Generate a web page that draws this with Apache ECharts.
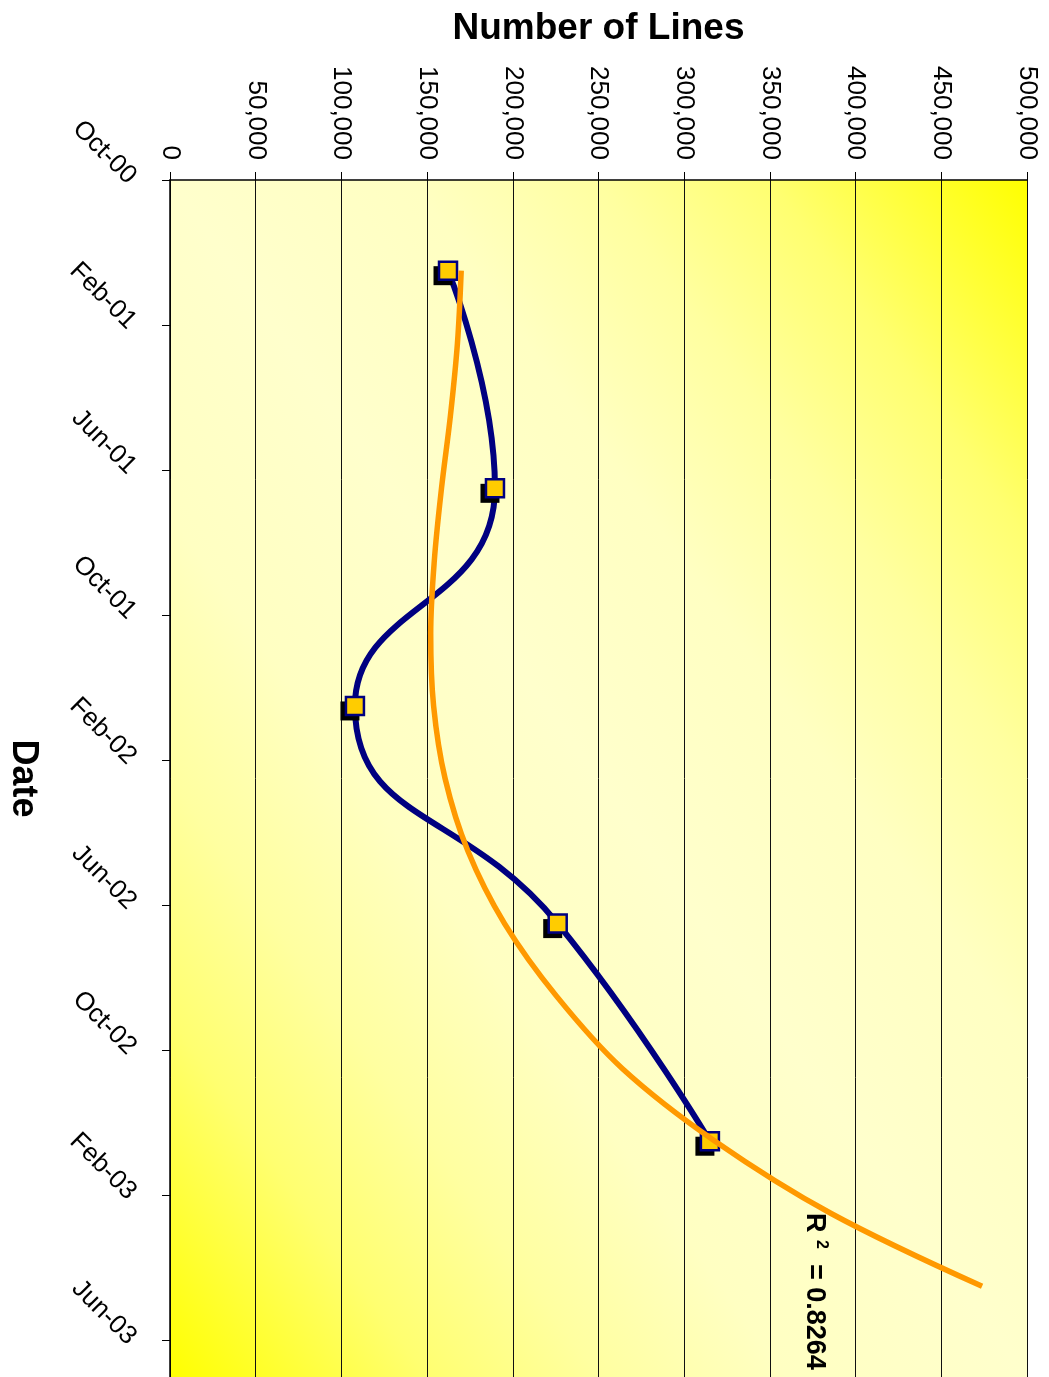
<!DOCTYPE html>
<html>
<head>
<meta charset="utf-8">
<script src="https://cdn.jsdelivr.net/npm/echarts@6/dist/echarts.min.js"></script>
<style>
  html, body { margin: 0; padding: 0; background: #ffffff; }
  #chart { width: 1049px; height: 1377px; }
</style>
</head>
<body>
<div id="chart"></div>
<script>
// Date axis runs in months counted from October 2000, one tick every 4 months
const dateTickLabels = ['Oct-00', 'Feb-01', 'Jun-01', 'Oct-01', 'Feb-02', 'Jun-02', 'Oct-02', 'Feb-03', 'Jun-03'];

// Number of lines, sampled twice a year
const lineMonths = [2.5, 8.5, 14.5, 20.5, 26.5];
const lineCounts = [162200, 189600, 107900, 226200, 315000];

// Polynomial trendline, extended four months ahead
const trendMonths = [2.5, 4.5, 6.5, 8.5, 10.5, 12.5, 14.5, 16.5, 18.5, 20.5, 22.5, 24.5, 26.5, 28.5, 30.5];
const trendCounts = [169900, 167700, 163600, 158400, 154200, 152100, 153800, 160500, 173800, 195200, 225500, 264000, 318000, 386000, 473800];

const FONT = '"Liberation Sans", Arial, sans-serif';
const W = 1049, H = 1377;
const GRID = { left: 170, top: 180, right: 22, bottom: 0 };

// Diagonal two-tone fill: yellow in the top-right and bottom-left corners, pale through the middle
const gw = W - GRID.left - GRID.right, gh = H - GRID.top - GRID.bottom;
const cx = GRID.left + gw / 2, cy = GRID.top + gh / 2;
const diagLen = Math.sqrt(gw * gw + gh * gh);
const ux = gh / diagLen, uy = -gw / diagLen;           // normal to the top-left / bottom-right diagonal
const reach = (gw / 2) * ux - (gh / 2) * uy;           // distance from centre to the top-right corner along it
const plotFill = new echarts.graphic.LinearGradient(
  cx + ux * reach, cy + uy * reach,
  cx - ux * reach, cy - uy * reach,
  [
    { offset: 0, color: '#FFFF00' },
    { offset: 0.15, color: '#FFFF70' },
    { offset: 0.25, color: '#FFFFA0' },
    { offset: 0.36, color: '#FFFFC2' },
    { offset: 0.5, color: '#FFFFCC' },
    { offset: 0.64, color: '#FFFFC2' },
    { offset: 0.75, color: '#FFFFA0' },
    { offset: 0.85, color: '#FFFF70' },
    { offset: 1, color: '#FFFF00' }
  ],
  true
);

const fmtThousands = v => String(v).replace(/\B(?=(\d{3})+(?!\d))/g, ',');
const pointData = lineMonths.map((m, i) => [lineCounts[i], m]);

const chart = echarts.init(document.getElementById('chart'), null, { renderer: 'canvas' });

chart.setOption({
  animation: false,
  backgroundColor: '#ffffff',
  textStyle: { fontFamily: FONT },
  grid: {
    left: GRID.left, top: GRID.top, right: GRID.right, bottom: GRID.bottom,
    outerBoundsMode: 'none',
    containLabel: false,
    show: true,
    backgroundColor: plotFill,
    borderWidth: 0
  },
  xAxis: {
    type: 'value',
    position: 'top',
    min: 0,
    max: 500000,
    interval: 50000,
    name: 'Number of Lines',
    nameLocation: 'middle',
    nameGap: 133,
    nameTextStyle: { fontFamily: FONT, fontSize: 37, fontWeight: 'bold', color: '#000' },
    axisLine: { show: true, lineStyle: { color: '#000', width: 1.5 } },
    axisTick: { show: true, length: 8, lineStyle: { color: '#000', width: 1 } },
    axisLabel: {
      rotate: -90,
      margin: 20,
      fontFamily: FONT,
      fontSize: 26,
      color: '#000',
      formatter: fmtThousands
    },
    splitLine: { show: true, lineStyle: { color: '#111', width: 1 } }
  },
  yAxis: {
    type: 'value',
    inverse: true,
    min: 0,
    max: 33,
    interval: 4,
    name: 'Date',
    nameLocation: 'middle',
    nameRotate: -90,
    nameGap: 129,
    nameTextStyle: { fontFamily: FONT, fontSize: 36, fontWeight: 'bold', color: '#000' },
    axisLine: { show: true, lineStyle: { color: '#000', width: 1.5 } },
    axisTick: { show: true, length: 8, lineStyle: { color: '#000', width: 1 } },
    axisLabel: {
      rotate: -45,
      margin: 38,
      padding: [3, 0, 0, 3],
      fontFamily: FONT,
      fontSize: 26,
      color: '#000',
      showMaxLabel: false,
      formatter: v => (v % 4 === 0 ? (dateTickLabels[v / 4] || '') : '')
    },
    splitLine: { show: false }
  },
  series: [
    {
      name: 'Number of Lines',
      type: 'line',
      data: pointData,
      smooth: 0.5,
      showSymbol: false,
      symbol: 'none',
      lineStyle: { color: '#000080', width: 6 },
      z: 2
    },
    {
      // drop shadow behind each marker
      name: 'marker shadow',
      type: 'scatter',
      data: pointData,
      symbol: 'rect',
      symbolSize: 19,
      symbolOffset: [-5, 5],
      itemStyle: { color: '#000000', opacity: 1 },
      silent: true,
      z: 3
    },
    {
      name: 'markers',
      type: 'scatter',
      data: pointData,
      symbol: 'rect',
      symbolSize: 18,
      itemStyle: { color: '#FFCC00', borderColor: '#000080', borderWidth: 2.5, opacity: 1 },
      emphasis: { disabled: true },
      z: 4
    },
    {
      name: 'Trend',
      type: 'line',
      data: trendMonths.map((m, i) => [trendCounts[i], m]),
      smooth: 0.35,
      showSymbol: false,
      symbol: 'none',
      lineStyle: { color: '#FF9900', width: 5.5 },
      z: 5
    }
  ],
  graphic: [
    {
      type: 'text',
      x: 814,
      y: 1213,
      rotation: -Math.PI / 2,
      style: {
        text: '{a|R }{s|2}{a|  = 0.8264}',
        fill: '#000',
        align: 'left',
        verticalAlign: 'middle',
        rich: {
          a: { fontFamily: FONT, fontSize: 27, fontWeight: 'bold', fill: '#000', lineHeight: 30 },
          s: { fontFamily: FONT, fontSize: 16, fontWeight: 'bold', fill: '#000', lineHeight: 30, verticalAlign: 'top' }
        }
      },
      z: 10
    }
  ]
});
</script>
</body>
</html>
